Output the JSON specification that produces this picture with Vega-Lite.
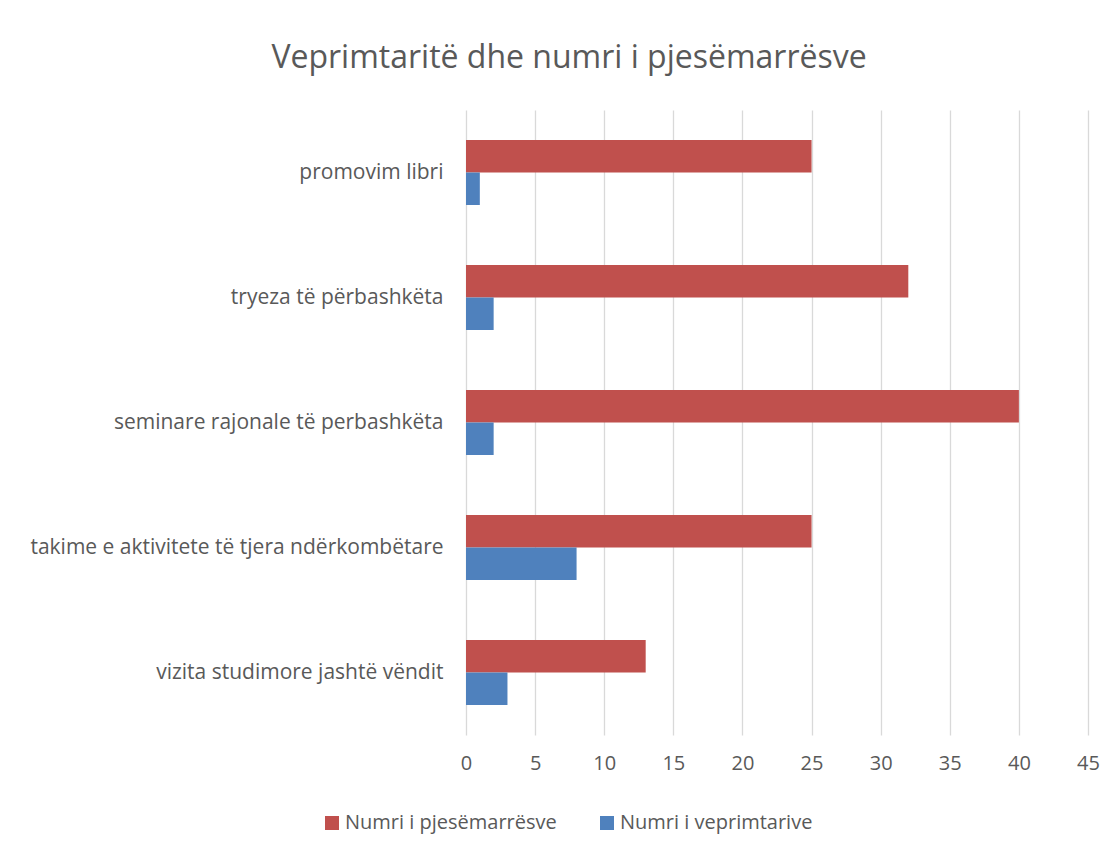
{
  "$schema": "https://vega.github.io/schema/vega-lite/v6.json",
  "width": 622,
  "height": 625,
  "autosize": {"type": "none"},
  "padding": {"left": 466, "top": 110, "right": 29, "bottom": 115},
  "background": "white",
  "title": {
    "text": "Veprimtaritë dhe numri i pjesëmarrësve",
    "anchor": "middle",
    "frame": "group",
    "dx": -208,
    "offset": 35,
    "fontSize": 32,
    "font": "Open Sans",
    "fontWeight": "normal",
    "color": "#595959"
  },
  "data": {
    "values": [
      {"category": "promovim libri", "series": "Numri i pjesëmarrësve", "value": 25},
      {"category": "promovim libri", "series": "Numri i veprimtarive", "value": 1},
      {"category": "tryeza të përbashkëta", "series": "Numri i pjesëmarrësve", "value": 32},
      {"category": "tryeza të përbashkëta", "series": "Numri i veprimtarive", "value": 2},
      {"category": "seminare rajonale të perbashkëta", "series": "Numri i pjesëmarrësve", "value": 40},
      {"category": "seminare rajonale të perbashkëta", "series": "Numri i veprimtarive", "value": 2},
      {"category": "takime e aktivitete të tjera ndërkombëtare", "series": "Numri i pjesëmarrësve", "value": 25},
      {"category": "takime e aktivitete të tjera ndërkombëtare", "series": "Numri i veprimtarive", "value": 8},
      {"category": "vizita studimore jashtë vëndit", "series": "Numri i pjesëmarrësve", "value": 13},
      {"category": "vizita studimore jashtë vëndit", "series": "Numri i veprimtarive", "value": 3}
    ]
  },
  "mark": {"type": "bar"},
  "encoding": {
    "y": {
      "field": "category",
      "type": "nominal",
      "sort": ["promovim libri", "tryeza të përbashkëta", "seminare rajonale të perbashkëta", "takime e aktivitete të tjera ndërkombëtare", "vizita studimore jashtë vëndit"],
      "scale": {"paddingInner": 0.48, "paddingOuter": 0.24},
      "axis": {
        "title": null,
        "domain": false,
        "ticks": false,
        "labelPadding": 23,
        "labelFontSize": 21,
        "labelFont": "Open Sans",
        "labelColor": "#595959",
        "labelLimit": 600
      }
    },
    "yOffset": {
      "field": "series",
      "type": "nominal",
      "sort": ["Numri i pjesëmarrësve", "Numri i veprimtarive"],
      "scale": {"paddingInner": 0, "paddingOuter": 0}
    },
    "x": {
      "field": "value",
      "type": "quantitative",
      "scale": {"domain": [0, 45], "nice": false},
      "axis": {
        "title": null,
        "values": [0, 5, 10, 15, 20, 25, 30, 35, 40, 45],
        "domain": false,
        "ticks": false,
        "grid": true,
        "gridColor": "#D9D9D9",
        "gridWidth": 1.3,
        "labelFlush": false,
        "labelPadding": 18,
        "labelFontSize": 20,
        "labelFont": "Open Sans",
        "labelColor": "#595959"
      }
    },
    "color": {
      "field": "series",
      "type": "nominal",
      "sort": ["Numri i pjesëmarrësve", "Numri i veprimtarive"],
      "scale": {"domain": ["Numri i pjesëmarrësve", "Numri i veprimtarive"], "range": ["#C0504D", "#4F81BD"]},
      "legend": {
        "title": null,
        "orient": "none",
        "direction": "horizontal",
        "legendX": -144,
        "legendY": 703,
        "symbolType": "square",
        "symbolSize": 196,
        "symbolStrokeWidth": 0,
        "labelFontSize": 20,
        "labelFont": "Open Sans",
        "labelColor": "#595959",
        "labelLimit": 400,
        "columnPadding": 40,
        "labelOffset": 3
      }
    }
  },
  "config": {
    "view": {"stroke": null}
  }
}
